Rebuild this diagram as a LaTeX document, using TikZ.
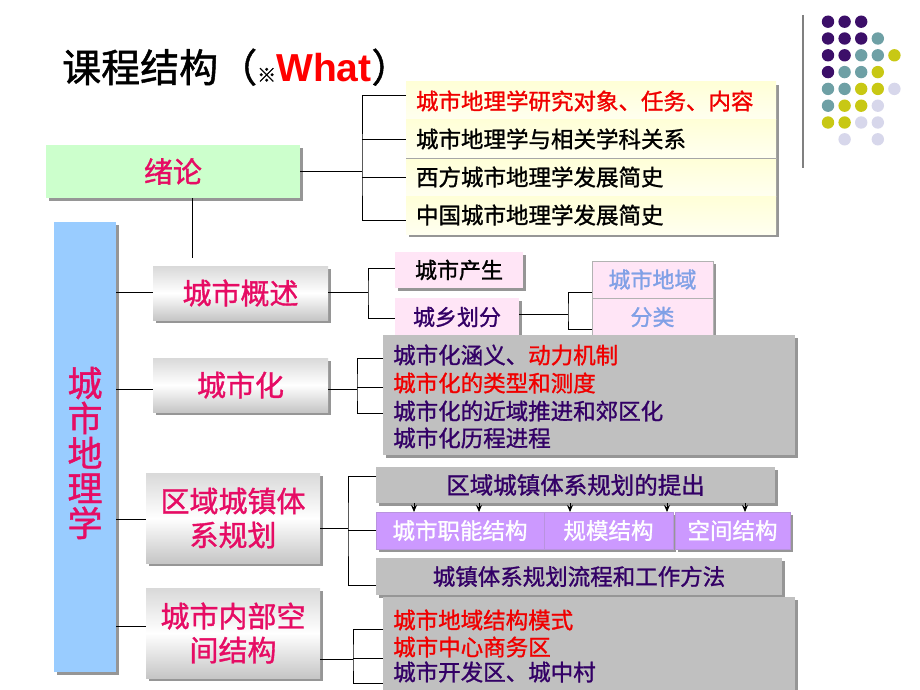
\documentclass[tikz,border=0pt]{standalone}
\usepackage{fontspec}
\setmainfont{Noto Sans CJK SC}[FakeBold=1.2]
\newfontfamily\arialf{Liberation Sans}
\usetikzlibrary{shadows,arrows.meta,calc}
\definecolor{mag}{RGB}{230,12,100}
\definecolor{dred}{RGB}{240,0,0}
\definecolor{dpur}{RGB}{51,0,102}
\definecolor{bluebox}{RGB}{153,204,255}
\definecolor{greenbox}{RGB}{204,255,204}
\definecolor{pinkbox}{RGB}{255,229,246}
\definecolor{lavbox}{RGB}{204,153,255}
\definecolor{graybox}{RGB}{192,192,192}
\definecolor{ltblue}{RGB}{128,160,230}
\definecolor{dotP}{RGB}{60,15,105}
\definecolor{dotT}{RGB}{110,160,165}
\definecolor{dotY}{RGB}{200,200,20}
\definecolor{dotL}{RGB}{215,215,235}
\definecolor{shad}{RGB}{150,150,150}
\tikzset{
  shd/.style={drop shadow={shadow xshift=3pt,shadow yshift=-3pt,fill=shad,opacity=1}},
  box/.style={inner sep=0pt,outer sep=0pt,align=center},
  catbox/.style={box,shd,top color=gray!30,bottom color=gray!45,middle color=white,
    text=mag,font=\fontsize{29}{34}\selectfont},
  itembox/.style={box,shd,text width=350pt,inner xsep=10pt,align=left,minimum height=38pt,
    top color={rgb,255:red,255;green,255;blue,215},bottom color={rgb,255:red,255;green,255;blue,240},
    font=\fontsize{22.5}{26}\selectfont},
  pinkb/.style={box,shd,fill=pinkbox,font=\fontsize{22}{26}\selectfont},
  grayb/.style={box,shd,fill=graybox,font=\fontsize{22.5}{26}\selectfont},
  lavb/.style={box,shd,fill=lavbox,draw=lavbox!75!gray,line width=0.6pt,text=white,minimum height=37pt,font=\fontsize{22.5}{26}\selectfont},
  txt/.style={anchor=west,inner sep=0pt,font=\fontsize{22.5}{26}\selectfont},
  conn/.style={line width=0.8pt,black},
  arr/.style={line width=0.9pt,-{Stealth[length=7pt,width=6pt]}},
}
\begin{document}
\begin{tikzpicture}[x=1pt,y=-1pt]
\useasboundingbox (0,0) rectangle (920,690);
\clip (0,0) rectangle (920,690);
% title
\node[anchor=base west,inner sep=0pt] (title) at (62,82)
  {\fontsize{39}{44}\selectfont 课程结构（{\fontsize{19}{20}\selectfont ※}{\arialf\bfseries\color{red}What}）};
% decoration
\draw[line width=1.6pt,gray] (803,15) -- (803,168);
\foreach \c/\r/\col in {0/0/dotP,1/0/dotP,2/0/dotP,
  0/1/dotP,1/1/dotP,2/1/dotP,3/1/dotT,
  0/2/dotP,1/2/dotP,2/2/dotT,3/2/dotT,4/2/dotY,
  0/3/dotP,1/3/dotT,2/3/dotT,3/3/dotY,
  0/4/dotT,1/4/dotT,2/4/dotY,3/4/dotY,4/4/dotL,
  0/5/dotT,1/5/dotY,2/5/dotY,3/5/dotL,
  0/6/dotY,1/6/dotY,2/6/dotL,3/6/dotL,
  1/7/dotL,3/7/dotL}
  \fill[\col] (828+16.6*\c,21.7+16.8*\r) circle (6.2pt);
% 绪论
\node[box,shd,fill=greenbox,text=mag,minimum width=254pt,minimum height=53pt,font=\fontsize{29}{34}\selectfont] (xulun) at (173,171.5) {绪论};
\node[itembox,text=dred] (i1) at (591,101) {城市地理学研究对象、任务、内容};
\node[itembox] (i2) at (591,139) {城市地理学与相关学科关系};
\node[itembox] (i3) at (591,177) {西方城市地理学发展简史};
\node[itembox] (i4) at (591,215) {中国城市地理学发展简史};
\draw[gray!70,line width=0.8pt] (i2.south west) -- (i2.south east);
\coordinate (j1) at (362,171.5);
\draw[conn] (xulun.east) -- (j1);
\draw[conn] (i1.west |- 0,95) -| (j1) |- (i4.west |- 0,220);
\draw[conn] (j1 |- i2.west) -- (i2.west);
\draw[conn] (j1 |- i3.west) -- (i3.west);
\coordinate (xv) at (192,258);
\draw[conn] (xv |- xulun.south) -- (xv);
% blue box
\node[box,shd,fill=bluebox,minimum width=62pt,minimum height=450pt] (geo) at (85,447) {};
\node[box,text=mag,font=\fontsize{35}{35}\selectfont] (geot) at (85,453) {城\\市\\地\\理\\学};
% categories
\node[catbox,minimum width=175pt,minimum height=54pt] (gs) at (240.5,293) {城市概述};
\node[catbox,minimum width=175pt,minimum height=54pt] (csh) at (240.5,385) {城市化};
\node[catbox,minimum width=174pt,minimum height=90pt] (qy) at (233,518) {区域城镇体\\系规划};
\node[catbox,minimum width=174pt,minimum height=90pt] (nb) at (233,633) {城市内部空\\间结构};
\draw[conn] (geo.east |- 0,292) -- (gs.west |- 0,292);
\draw[conn] (geo.east |- 0,389) -- (csh.west |- 0,389);
\draw[conn] (geo.east |- 0,519) -- (qy.west |- 0,519);
\draw[conn] (geo.east |- 0,626) -- (nb.west |- 0,626);
% 城市概述 group
\node[pinkb,minimum width=128pt,minimum height=36pt] (cs) at (459,270) {城市产生};
\node[pinkb,minimum width=124pt,minimum height=38pt,text=dpur] (cx) at (457,317) {城乡划分};
\node[pinkb,draw=gray!60,line width=0.6pt,minimum width=121pt,minimum height=37pt,text=ltblue] (dy) at (652.5,279.5) {城市地域};
\node[pinkb,draw=gray!60,line width=0.6pt,minimum width=121pt,minimum height=38pt,text=ltblue] (fl) at (652.5,317) {分类};
\coordinate (j2) at (368,292);
\draw[conn] (gs.east |- j2) -- (j2);
\draw[conn] (cs.west |- 0,268) -| (j2) |- (cx.west |- 0,318);
\coordinate (j3) at (568,314);
\draw[conn] (cx.east |- j3) -- (j3);
\draw[conn] (dy.west |- 0,292) -| (j3) |- (fl.west |- 0,329);
% 城市化 group
\node[grayb,minimum width=412pt,minimum height=120pt] (cg) at (589,395) {};
\node[txt] (t1) at (393,355) {\textcolor{dpur}{城市化涵义、}\textcolor{dred}{动力机制}};
\node[txt,text=dred] (t2) at (393,383) {城市化的类型和测度};
\node[txt,text=dpur] (t3) at (393,411) {城市化的近域推进和郊区化};
\node[txt,text=dpur] (t4) at (393,438) {城市化历程进程};
\coordinate (j4) at (357,389);
\draw[conn] (csh.east |- j4) -- (j4);
\draw[conn] (cg.west |- 0,358) -| (j4) |- (cg.west |- 0,413);
\draw[conn] (j4 |- 0,387) -- (cg.west |- 0,387);
% 区域城镇体系规划 group
\node[grayb,minimum width=399pt,minimum height=36pt,text=dpur,font=\fontsize{23.5}{27}\selectfont] (tc) at (575.5,485) {区域城镇体系规划的提出};
\node[lavb,minimum width=168pt] (p1) at (460,530.5) {城市职能结构};
\node[lavb,minimum width=129pt] (p2) at (608.5,530.5) {规模结构};
\node[lavb,minimum width=115pt] (p3) at (732.5,530.5) {空间结构};
\node[grayb,minimum width=406pt,minimum height=37pt,text=dpur] (lc) at (579,576.5) {城镇体系规划流程和工作方法};
\foreach \dx/\tg in {38/p1,103/p1,194/p2,291/p2,369/p3}
  \draw[arr] ([xshift=\dx pt]tc.south west) -- ([xshift=\dx pt]tc.south west |- \tg.north);
\coordinate (j5) at (348,528);
\draw[conn] (qy.east |- j5) -- (j5);
\draw[conn] (tc.west |- 0,476) -| (j5) |- (lc.west |- 0,585);
\draw[conn] (j5 |- 0,530) -- (p1.west |- 0,530);
% 城市内部空间结构 group
\node[grayb,minimum width=412pt,minimum height=110pt] (ng) at (589,652) {};
\node[txt,text=dred] (n1) at (393,620) {城市地域结构模式};
\node[txt,text=dred] (n2) at (393,647) {城市中心商务区};
\node[txt,text=dpur] (n3) at (393,672) {城市开发区、城中村};
\coordinate (j6) at (353,659);
\draw[conn] (nb.east |- j6) -- (j6);
\draw[conn] (ng.west |- 0,629) -| (j6) |- (ng.west |- 0,683);
\draw[conn] (j6 |- 0,658) -- (ng.west |- 0,658);
\end{tikzpicture}
\end{document}
